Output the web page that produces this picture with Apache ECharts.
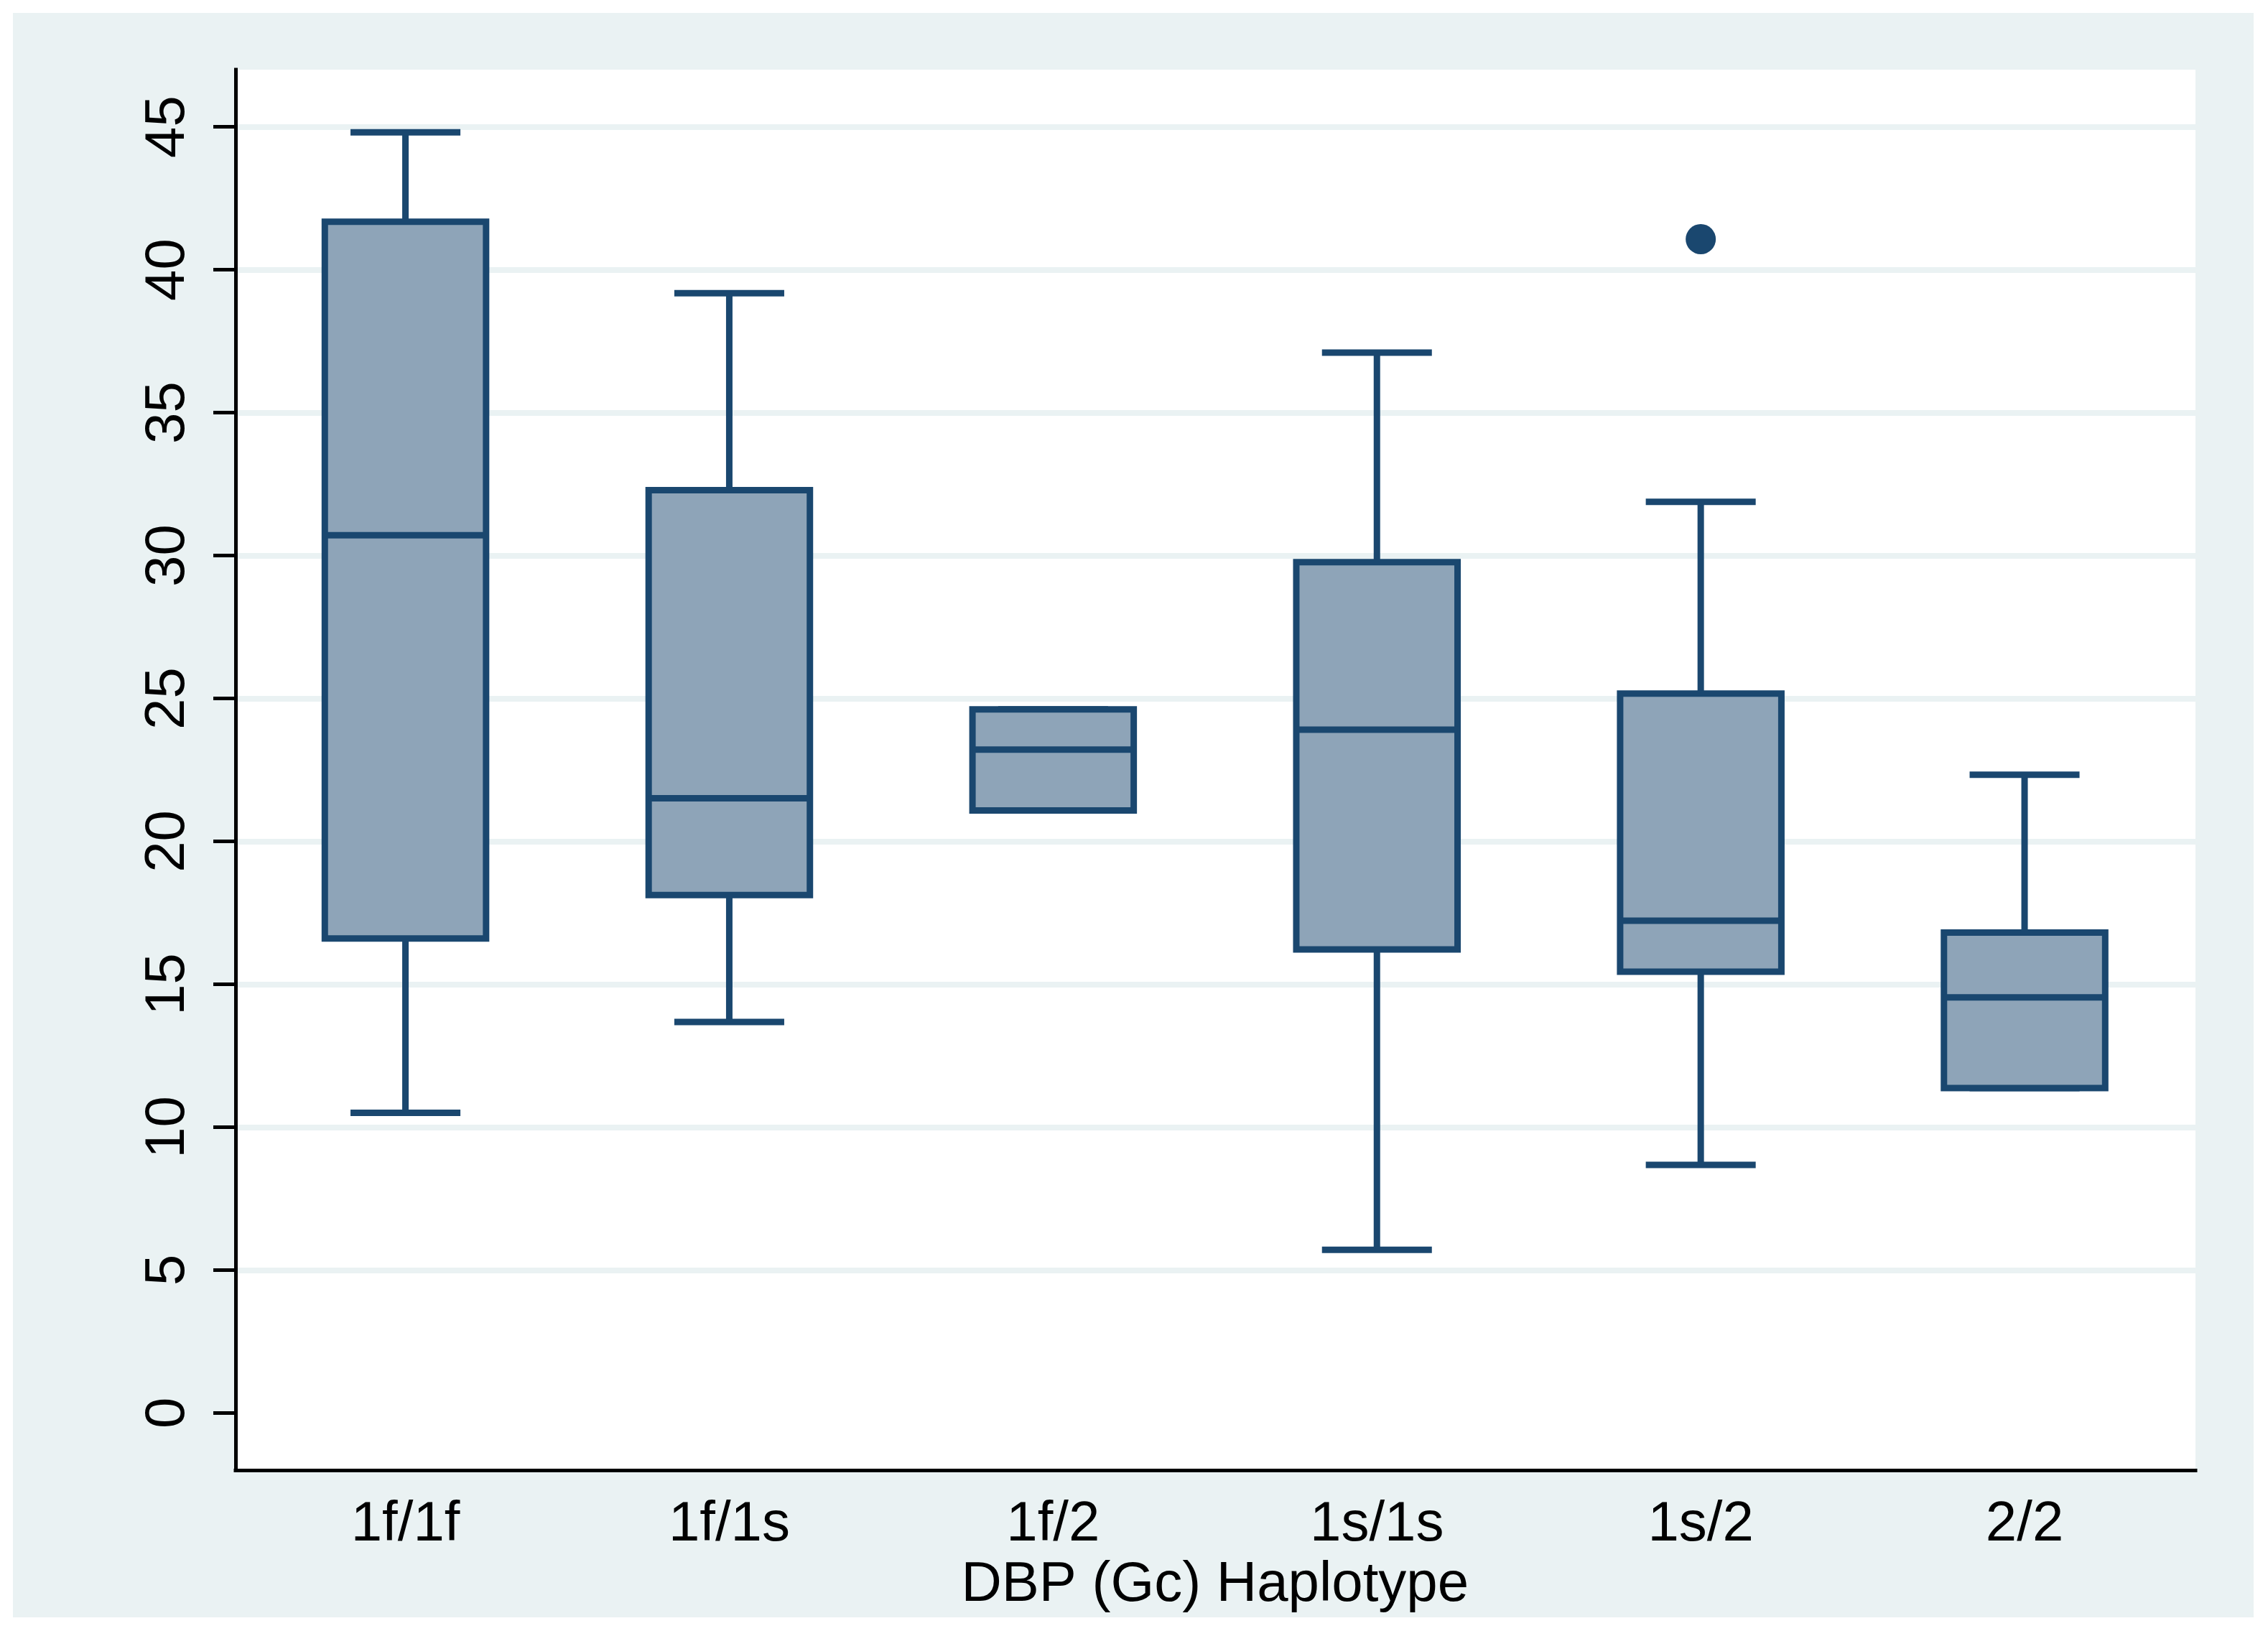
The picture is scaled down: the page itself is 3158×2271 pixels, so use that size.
<!DOCTYPE html>
<html>
<head>
<meta charset="utf-8">
<title>DBP (Gc) Haplotype box plot</title>
<script src="https://cdn.jsdelivr.net/npm/echarts@6/dist/echarts.min.js"></script>
<style>
  html, body { margin: 0; padding: 0; background: #ffffff; }
  #chart { width: 3158px; height: 2271px; }
</style>
</head>
<body>
<div id="chart"></div>
<script>
// ---------------- data ----------------
const categories   = ['1f/1f', '1f/1s', '1f/2', '1s/1s', '1s/2', '2/2'];
const lowerWhisker = [10.50, 13.68, 21.08,  5.71,  8.68, 11.37];
const q1           = [16.60, 18.12, 21.08, 16.22, 15.44, 11.37];
const median       = [30.71, 21.51, 23.21, 23.91, 17.22, 14.54];
const q3           = [41.68, 32.29, 24.62, 29.77, 25.17, 16.81];
const upperWhisker = [44.81, 39.18, 24.62, 37.10, 31.88, 22.33];
const outliers     = [['1s/2', 41.07]];
const yTickMin = 0, yTickMax = 45, yTickStep = 5;
const frameYMin = -2, frameYMax = 47;
const xTitle = 'DBP (Gc) Haplotype';

// ---------------- styling / layout ----------------
const STROKE = '#1A476F';
const FILL = '#8EA4B8';
const BG = '#EAF2F3';
const LW = 9;
const FONT = "'Liberation Sans', Arial, Helvetica, sans-serif";

const plotLeft = 328, plotRight = 3057, plotTop = 97, plotBottom = 2047;
const pxPerUnit = (plotBottom - plotTop) / (frameYMax - frameYMin);
const yTop = plotBottom - (yTickMax - frameYMin) * pxPerUnit;
const yZero = plotBottom - (yTickMin - frameYMin) * pxPerUnit;
const boxLeft = 339.1, boxWidth = 2705.4;

const boxData = categories.map((c, i) => [i, lowerWhisker[i], q1[i], median[i], q3[i], upperWhisker[i]]);

const splitColors = [];
for (let v = yTickMin; v <= yTickMax; v += yTickStep) splitColors.push(v === 0 ? 'rgba(0,0,0,0)' : BG);

const chart = echarts.init(document.getElementById('chart'), null, { renderer: 'canvas' });

const option = {
  animation: false,
  backgroundColor: '#ffffff',
  textStyle: { fontFamily: FONT },
  graphic: [{
    type: 'rect', z: -10, silent: true,
    shape: { x: 18, y: 18, width: 3120, height: 2234 },
    style: { fill: BG }
  }],
  grid: [
    { // 0: y ticks / labels / grid lines
      left: plotLeft, top: yTop, width: plotRight - plotLeft, height: yZero - yTop,
      show: false
    },
    { // 1: boxes
      left: boxLeft, top: yTop, width: boxWidth, height: yZero - yTop,
      show: false
    },
    { // 2: frame (white plot area and axis lines)
      left: plotLeft, top: plotTop, width: plotRight - plotLeft, height: plotBottom - plotTop,
      show: true, backgroundColor: '#ffffff', borderWidth: 0, z: -5
    }
  ],
  xAxis: [
    { gridIndex: 0, type: 'value', min: 0, max: 1, show: false },
    {
      gridIndex: 1, type: 'category', data: categories, boundaryGap: true,
      position: 'bottom', offset: plotBottom - yZero,
      axisLine: { show: false }, axisTick: { show: false }, splitLine: { show: false },
      axisLabel: { show: true, interval: 0, fontSize: 78, color: '#000', fontFamily: FONT, margin: 37 },
      name: xTitle, nameLocation: 'middle', nameGap: 121,
      nameTextStyle: { fontSize: 78, color: '#000', fontFamily: FONT }
    },
    {
      gridIndex: 2, type: 'value', min: 0, max: 1,
      axisLine: { show: true, onZero: false, lineStyle: { color: '#000', width: 5, cap: 'square' } },
      axisTick: { show: false }, axisLabel: { show: false }, splitLine: { show: false }
    }
  ],
  yAxis: [
    {
      gridIndex: 0, type: 'value', min: yTickMin, max: yTickMax, interval: yTickStep,
      axisLine: { show: false },
      axisTick: { show: true, inside: false, length: 31, lineStyle: { color: '#000', width: 5 } },
      axisLabel: { show: true, rotate: 90, fontSize: 78, color: '#000', fontFamily: FONT, margin: 55 },
      splitLine: { show: true, lineStyle: { color: splitColors, width: 8 } }
    },
    { gridIndex: 1, type: 'value', min: yTickMin, max: yTickMax, show: false },
    {
      gridIndex: 2, type: 'value', min: frameYMin, max: frameYMax,
      axisLine: { show: true, onZero: false, lineStyle: { color: '#000', width: 5, cap: 'square' } },
      axisTick: { show: false }, axisLabel: { show: false }, splitLine: { show: false }
    }
  ],
  series: [
    {
      type: 'custom',
      xAxisIndex: 1, yAxisIndex: 1,
      clip: false,
      encode: { x: 0, y: [1, 2, 3, 4, 5] },
      data: boxData,
      renderItem: function (params, api) {
        const xi = api.value(0);
        const band = api.size([1, 0])[0];
        const cx = api.coord([xi, 0])[0];
        const py = v => api.coord([xi, v])[1];
        const yLo = py(api.value(1)), yQ1 = py(api.value(2)), yMed = py(api.value(3));
        const yQ3 = py(api.value(4)), yHi = py(api.value(5));
        const hw = band * 0.249;
        const cw = band * 0.1697;
        const ls = { stroke: STROKE, lineWidth: LW, lineCap: 'butt', fill: null };
        return {
          type: 'group',
          children: [
            { type: 'line', shape: { x1: cx, y1: yQ3, x2: cx, y2: yHi }, style: ls },
            { type: 'line', shape: { x1: cx, y1: yQ1, x2: cx, y2: yLo }, style: ls },
            { type: 'line', shape: { x1: cx - cw, y1: yHi, x2: cx + cw, y2: yHi }, style: ls },
            { type: 'line', shape: { x1: cx - cw, y1: yLo, x2: cx + cw, y2: yLo }, style: ls },
            { type: 'rect', shape: { x: cx - hw, y: yQ3, width: 2 * hw, height: yQ1 - yQ3 },
              style: { fill: FILL, stroke: STROKE, lineWidth: LW, lineJoin: 'miter' } },
            { type: 'line', shape: { x1: cx - hw, y1: yMed, x2: cx + hw, y2: yMed }, style: ls }
          ]
        };
      }
    },
    {
      type: 'scatter',
      xAxisIndex: 1, yAxisIndex: 1,
      symbol: 'circle', symbolSize: 42,
      itemStyle: { color: STROKE, opacity: 1 },
      data: outliers
    }
  ]
};

chart.setOption(option);
</script>
</body>
</html>
